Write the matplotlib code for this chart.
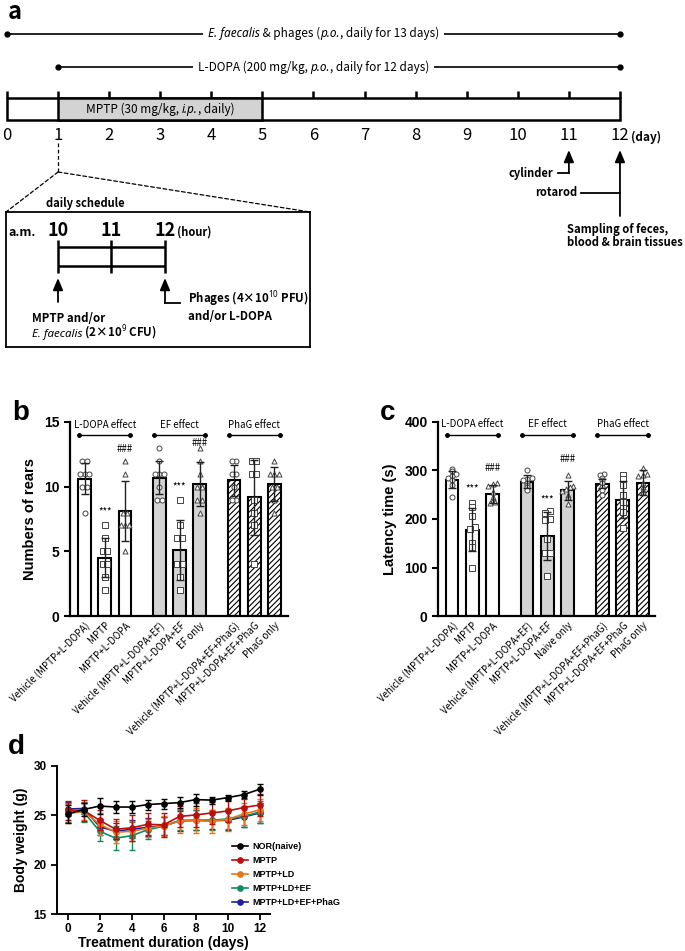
import numpy as np
import matplotlib
matplotlib.use("Agg")
import matplotlib.pyplot as plt
from matplotlib.patches import Rectangle, ConnectionPatch
from matplotlib.lines import Line2D
from matplotlib.transforms import offset_copy

KR = "Noto Sans CJK KR"
GP = "Liberation Sans"
plt.rcParams["font.family"] = [KR, "DejaVu Sans"]
plt.rcParams["mathtext.fontset"] = "custom"
plt.rcParams["mathtext.rm"] = "Noto Sans"
plt.rcParams["mathtext.bf"] = "Noto Sans:bold"
plt.rcParams["hatch.linewidth"] = 0.8

W, H = 685, 951

# ---- data: panel a (schedule) ----
days = list(range(13))
ef_days = (0, 12)
ldopa_days = (1, 12)
mptp_days = (1, 5)
cylinder_day = 11
rotarod_day = 12
sched_hours = [10, 11, 12]

# ---- data: panels b / c ----
b_labels = ["Vehicle (MPTP+L-DOPA)", "MPTP", "MPTP+L-DOPA",
            "Vehicle (MPTP+L-DOPA+EF)", "MPTP+L-DOPA+EF", "EF only",
            "Vehicle (MPTP+L-DOPA+EF+PhaG)", "MPTP+L-DOPA+EF+PhaG", "PhaG only"]
c_labels = ["Vehicle (MPTP+L-DOPA)", "MPTP", "MPTP+L-DOPA",
            "Vehicle (MPTP+L-DOPA+EF)", "MPTP+L-DOPA+EF", "Naive only",
            "Vehicle (MPTP+L-DOPA+EF+PhaG)", "MPTP+L-DOPA+EF+PhaG", "PhaG only"]
effects = ["L-DOPA effect", "EF effect", "PhaG effect"]

rears_mean = [10.6, 4.5, 8.1, 10.7, 5.1, 10.2, 10.5, 9.2, 10.2]
rears_sd = [1.2, 1.5, 2.3, 1.3, 2.3, 1.7, 1.2, 2.9, 1.3]
rears_pts = [[12, 12, 11, 11, 11, 10, 10, 8],
             [7, 6, 5, 5, 4, 4, 3, 2],
             [12, 11, 8, 8, 7, 7, 7, 5],
             [13, 12, 11, 11, 11, 10, 9, 9],
             [9, 7, 6, 6, 4, 4, 3, 2],
             [13, 12, 11, 10, 10, 9, 9, 8],
             [12, 12, 11, 11, 10, 9, 9],
             [12, 12, 11, 11, 9, 8, 7, 4],
             [12, 11, 11, 11, 10, 10, 9, 8]]
rears_star = [None, 8.1, None, None, 10.0, None, None, None, None]
rears_hash = [None, None, 12.9, None, None, 13.35, None, None, None]

lat_mean = [281, 178, 252, 277, 165, 259, 273, 240, 275]
lat_sd = [17, 45, 18, 13, 50, 19, 10, 38, 25]
lat_pts = [[303, 298, 292, 288, 285, 280, 270, 245],
           [234, 225, 206, 183, 180, 150, 143, 100],
           [275, 272, 268, 255, 245, 240, 235, 232],
           [300, 285, 283, 280, 275, 270, 265, 260],
           [217, 213, 200, 197, 158, 130, 130, 83],
           [290, 268, 265, 262, 258, 250, 245, 231],
           [292, 290, 285, 280, 275, 265, 260, 250],
           [290, 282, 270, 250, 235, 222, 215, 182],
           [305, 292, 290, 288, 275, 265, 260, 255]]
lat_star = [None, 262, None, None, 241, None, None, None, None]
lat_hash = [None, None, 305, None, None, 324, None, None, None]

# ---- data: panel d (body weight) ----
bw_days = list(range(13))
bw_names = ["NOR(naive)", "MPTP", "MPTP+LD", "MPTP+LD+EF", "MPTP+LD+EF+PhaG"]
bw_colors = ["#000000", "#b80f0f", "#e5761a", "#138a5e", "#1f1f99"]
bw_mean = [
    [25.15, 25.6, 25.95, 25.85, 25.85, 26.1, 26.2, 26.3, 26.6, 26.55, 26.8, 27.1, 27.65],
    [25.5, 25.5, 24.5, 23.6, 23.75, 24.1, 24.05, 24.9, 25.05, 25.25, 25.45, 25.8, 26.05],
    [25.2, 25.4, 24.1, 23.3, 23.4, 23.7, 23.95, 24.45, 24.5, 24.4, 24.6, 25.15, 25.55],
    [25.3, 25.35, 23.4, 22.7, 22.95, 23.55, 23.9, 24.5, 24.5, 24.5, 24.65, 24.9, 25.35],
    [25.65, 25.7, 23.85, 23.4, 23.6, 23.8, 23.95, 24.45, 24.5, 24.5, 24.5, 24.85, 25.25],
]
bw_err = [
    [0.9, 0.7, 0.8, 0.6, 0.6, 0.5, 0.5, 0.55, 0.6, 0.35, 0.3, 0.35, 0.55],
    [1.0, 1.1, 1.0, 1.0, 1.3, 1.1, 1.2, 1.1, 1.2, 1.1, 1.1, 0.9, 1.1],
    [1.0, 0.9, 1.1, 1.1, 1.0, 0.9, 1.0, 1.2, 1.3, 1.2, 1.2, 1.1, 1.1],
    [1.0, 1.0, 1.0, 1.2, 1.4, 0.9, 0.9, 1.0, 1.0, 1.0, 1.0, 1.1, 1.1],
    [0.7, 0.6, 0.8, 0.8, 0.9, 0.9, 0.9, 1.0, 1.0, 0.9, 1.0, 1.0, 1.0],
]


def px_rect(x0, y0, x1, y1):
    return [x0 / W, 1 - y1 / H, (x1 - x0) / W, (y1 - y0) / H]


def up_arrow(ax, x, y0, y1):
    ax.annotate("", xy=(x, y1), xytext=(x, y0),
                arrowprops=dict(arrowstyle="-|>,head_length=0.6,head_width=0.25",
                                color="k", lw=1.3, shrinkA=0, shrinkB=0,
                                mutation_scale=12))


def rich_text(ax, x, y, pieces, ha="center", size=8.5, weight="normal", bg=False):
    # pieces: list of (string, italic?) laid out one after another on a baseline
    r = fig.canvas.get_renderer()
    ts = []
    for s, it in pieces:
        t = ax.text(x, y, s, ha="left", va="baseline", fontsize=size, weight=weight,
                    fontstyle="italic" if it else "normal", zorder=5,
                    fontfamily=["Noto Sans"] if it else [KR, "DejaVu Sans"])
        ts.append(t)
    widths = [t.get_window_extent(r).width for t in ts]
    total = sum(widths)
    x0 = -total / 2 if ha == "center" else 0
    if bg:
        px, py = ax.transData.transform((x, y))
        inv = ax.transData.inverted()
        (l, b), (rr, tp) = inv.transform([(px + x0 - 5, py - 6), (px + x0 + total + 5, py + 13)])
        ax.add_patch(Rectangle((l, min(b, tp)), rr - l, abs(tp - b), fc="white",
                               ec="none", zorder=4))
    for t, w in zip(ts, widths):
        t.set_transform(offset_copy(ax.transData, fig=fig, x=x0, y=0, units="dots"))
        x0 += w
    return ts


def spread(vals, tol, step, maxw=0.27):
    vals = np.asarray(vals, float)
    off = np.zeros(len(vals))
    clusters = []
    for i in np.argsort(vals):
        if clusters and vals[i] - vals[clusters[-1][-1]] <= tol:
            clusters[-1].append(i)
        else:
            clusters.append([i])
    for cl in clusters:
        n = len(cl)
        s = step if n < 2 else min(step, 2 * maxw / (n - 1))
        for k, i in enumerate(cl):
            off[i] = (k - (n - 1) / 2) * s
    return off


fig = plt.figure(figsize=(W / 100, H / 100), dpi=100)

# ================= panel a =================
D0, DPX = 7, 51.08
axa = fig.add_axes(px_rect(0, 0, W, 360))
axa.set_xlim(-D0 / DPX, (W - D0) / DPX)
axa.set_ylim(360, 0)
axa.axis("off")

axa.plot(ef_days, [34, 34], "-", color="k", lw=1.2, marker="o", ms=3.5, zorder=2)
rich_text(axa, 6.2, 37.5, [("E. faecalis", True), (" & phages (", False), ("p.o.", True),
                            (", daily for 13 days)", False)], bg=True)
axa.plot(ldopa_days, [67, 67], "-", color="k", lw=1.2, marker="o", ms=3.5, zorder=2)
rich_text(axa, 6.0, 70.5, [("L-DOPA (200 mg/kg, ", False), ("p.o.", True),
                            (", daily for 12 days)", False)], bg=True)

axa.vlines(days, 91, 98, color="k", lw=1.8)
axa.add_patch(Rectangle((days[0], 98), days[-1] - days[0], 22, fc="white", ec="k", lw=1.8))
axa.add_patch(Rectangle((mptp_days[0], 98), mptp_days[1] - mptp_days[0], 22,
                        fc="#d3d3d3", ec="k", lw=1.8))
rich_text(axa, sum(mptp_days) / 2, 112.5, [("MPTP (30 mg/kg, ", False), ("i.p.", True),
                                            (", daily)", False)])
for d in days:
    axa.text(d, 136, str(d), ha="center", va="center", fontsize=12)
axa.text(days[-1] + 0.22, 137, "(day)", ha="left", va="center", fontsize=8.5, weight="bold")

# behaviour tests / sampling
up_arrow(axa, cylinder_day, 173, 150)
axa.plot([cylinder_day - 0.21, cylinder_day], [173, 173], color="k", lw=1.3)
axa.text(cylinder_day - 0.3, 173, "cylinder", ha="right", va="center", fontsize=8, weight="bold")
up_arrow(axa, rotarod_day, 216, 150)
axa.plot([rotarod_day - 0.76, rotarod_day], [193, 193], color="k", lw=1.3)
axa.text(rotarod_day - 0.84, 193, "rotarod", ha="right", va="center", fontsize=8, weight="bold")
axa.text(rotarod_day - 1.04, 236, "Sampling of feces,\nblood & brain tissues", ha="left",
         va="center", fontsize=8.1, weight="bold", linespacing=1.1)

# daily schedule inset
HPX = 53.5
axi = fig.add_axes(px_rect(6, 212, 310, 347))
axi.set_xlim(10 - 52 / HPX, 12 + 145 / HPX)
axi.set_ylim(347, 212)
axi.set_xticks([])
axi.set_yticks([])
for s in axi.spines.values():
    s.set_linewidth(1.3)

axa.plot([mptp_days[0]] * 2, [143, 172], color="k", lw=0.9, ls=(0, (3, 2)))
for corner in [(0, 1), (1, 1)]:
    fig.add_artist(ConnectionPatch(xyA=(mptp_days[0], 172), coordsA=axa.transData,
                                   xyB=corner, coordsB=axi.transAxes,
                                   color="k", lw=0.9, ls=(0, (3, 2))))

axi.text(9.78, 204, "daily schedule", ha="left", va="center", fontsize=8,
         weight="bold", clip_on=False)
axi.text(9.33, 233, "a.m.", ha="center", va="center", fontsize=9, weight="bold")
for h in sched_hours:
    axi.text(h, 231, str(h), ha="center", va="center", fontsize=13, weight="bold")
axi.text(sched_hours[-1] + 0.22, 232, "(hour)", ha="left", va="center", fontsize=8, weight="bold")
axi.hlines([247, 266], sched_hours[0], sched_hours[-1], color="k", lw=1.8)
axi.vlines(sched_hours, 240, 273, color="k", lw=1.8)
up_arrow(axi, sched_hours[0], 302, 278)
up_arrow(axi, sched_hours[-1], 303, 278)
axi.plot([sched_hours[-1], sched_hours[-1] + 0.28], [303, 303], color="k", lw=1.3)
axi.text(sched_hours[-1] + 0.43, 306, "Phages (4×10$^{\\mathbf{10}}$ PFU)\nand/or L-DOPA",
         ha="left", va="center", fontsize=8.3, weight="bold", linespacing=1.15)
axi.text(9.51, 322, "MPTP and/or", ha="left", va="baseline", fontsize=8.3, weight="bold")
rich_text(axi, 9.51, 337, [("E. faecalis", True), (" (2×10$^{\\mathbf{9}}$ CFU)", False)],
          ha="left", size=8.3, weight="bold")

# ================= panels b / c =================
bar_pos = [0, 1, 2, 3.7, 4.7, 5.7, 7.4, 8.4, 9.4]
fills = ["white"] * 3 + ["#d3d3d3"] * 3 + ["white"] * 3
hatches = [None] * 6 + ["//////"] * 3
markers = ["o", "s", "^"] * 3


def bar_panel(rect, xlim, means, sds, pts, labels, ylim, yticks, ylabel,
              tol, stars, hashes, brk_y, brk_txt_y):
    ax = fig.add_axes(rect)
    bars = ax.bar(bar_pos, means, width=0.62, color=fills, edgecolor="k",
                  linewidth=1.5, zorder=1)
    for b, h in zip(bars, hatches):
        if h:
            b.set_hatch(h)
    for i, vals in enumerate(pts):
        off = spread(vals, tol, 0.22)
        ax.scatter(np.array(off) + bar_pos[i], vals, marker=markers[i], s=13,
                   facecolors="white", edgecolors="#444444", linewidths=0.7, zorder=3)
    ax.errorbar(bar_pos, means, yerr=sds, fmt="none", ecolor="#222222",
                elinewidth=1.0, capsize=3, capthick=1.0, zorder=4)
    for i in range(len(means)):
        if stars[i] is not None:
            ax.text(bar_pos[i], stars[i], "***", ha="center", va="center", fontsize=7)
        if hashes[i] is not None:
            ax.text(bar_pos[i], hashes[i], "###", ha="center", va="center", fontsize=7)
    for g, name in enumerate(effects):
        x0, x1 = bar_pos[3 * g] - 0.25, bar_pos[3 * g + 2] + 0.25
        ax.plot([x0, x1], [brk_y, brk_y], "-", color="k", lw=1.0, marker="o",
                ms=2.5, clip_on=False)
        ax.text((x0 + x1) / 2, brk_txt_y, name, ha="center", va="center",
                fontsize=7, clip_on=False)
    ax.set_xlim(*xlim)
    ax.set_ylim(*ylim)
    ax.set_yticks(yticks)
    ax.set_yticklabels([str(t) for t in yticks], fontfamily=GP, weight="bold", fontsize=10)
    ax.set_xticks(bar_pos)
    ax.set_xticklabels(labels, rotation=45, ha="right", va="top",
                       rotation_mode="anchor", fontsize=7)
    ax.tick_params(axis="x", length=0, pad=3)
    ax.tick_params(axis="y", length=4, width=1.5)
    for s in ["top", "right"]:
        ax.spines[s].set_visible(False)
    for s in ["left", "bottom"]:
        ax.spines[s].set_linewidth(1.6)
    ax.set_ylabel(ylabel, fontfamily=GP, weight="bold", fontsize=10.5, labelpad=5)
    return ax


bar_panel(px_rect(70, 422, 288, 616), (-0.72, 10.07), rears_mean, rears_sd, rears_pts,
          b_labels, (0, 15), [0, 5, 10, 15], "Numbers of rears", 0.4,
          rears_star, rears_hash, 14.0, 14.8)
bar_panel(px_rect(438, 422, 655, 616), (-0.69, 10.0), lat_mean, lat_sd, lat_pts,
          c_labels, (0, 400), [0, 100, 200, 300, 400], "Latency time (s)", 4,
          lat_star, lat_hash, 374, 396)

# ================= panel d =================
axd = fig.add_axes(px_rect(57.3, 766, 270, 914.3))
handles = []
for k in range(len(bw_names)):
    axd.errorbar(bw_days, bw_mean[k], yerr=bw_err[k], color=bw_colors[k], marker="o",
                 ms=3.8, lw=1.2, elinewidth=1.0, capsize=2.2, capthick=1.0,
                 zorder=10 - k if k else 11)
    handles.append(Line2D([], [], color=bw_colors[k], marker="o", ms=3.8, lw=1.2))
axd.set_xlim(-0.65, 12.65)
axd.set_ylim(15, 30)
axd.set_xticks(range(0, 13, 2))
axd.set_yticks([15, 20, 25, 30])
for lab in axd.get_xticklabels() + axd.get_yticklabels():
    lab.set_fontfamily(GP)
    lab.set_fontweight("bold")
    lab.set_fontsize(8.5)
axd.tick_params(length=4, width=1.3)
axd.tick_params(axis="x", pad=2)
for s in ["top", "right"]:
    axd.spines[s].set_visible(False)
for s in ["left", "bottom"]:
    axd.spines[s].set_linewidth(1.4)
axd.set_xlabel("Treatment duration (days)", fontfamily=GP, weight="bold", fontsize=10,
               labelpad=1)
axd.set_ylabel("Body weight (g)", fontfamily=GP, weight="bold", fontsize=10, labelpad=4)
axd.legend(handles, bw_names, loc="upper left", bbox_to_anchor=(232 / W, 1 - 842 / H),
           bbox_transform=fig.transFigure, frameon=False,
           prop=dict(family=GP, weight="bold", size=6.5), handlelength=1.8,
           handletextpad=0.5, labelspacing=0.55, borderpad=0, borderaxespad=0)

# panel letters
fig.text(8 / W, 1, "a", ha="left", va="top", fontsize=17, weight="bold")
fig.text(12 / W, 1 - 413 / H, "b", ha="left", va="center", fontsize=20, weight="bold", fontfamily=GP)
fig.text(380 / W, 1 - 413 / H, "c", ha="left", va="center", fontsize=20, weight="bold", fontfamily=GP)
fig.text(8 / W, 1 - 747 / H, "d", ha="left", va="center", fontsize=20, weight="bold", fontfamily=GP)

fig.savefig("out.png", dpi=100)
